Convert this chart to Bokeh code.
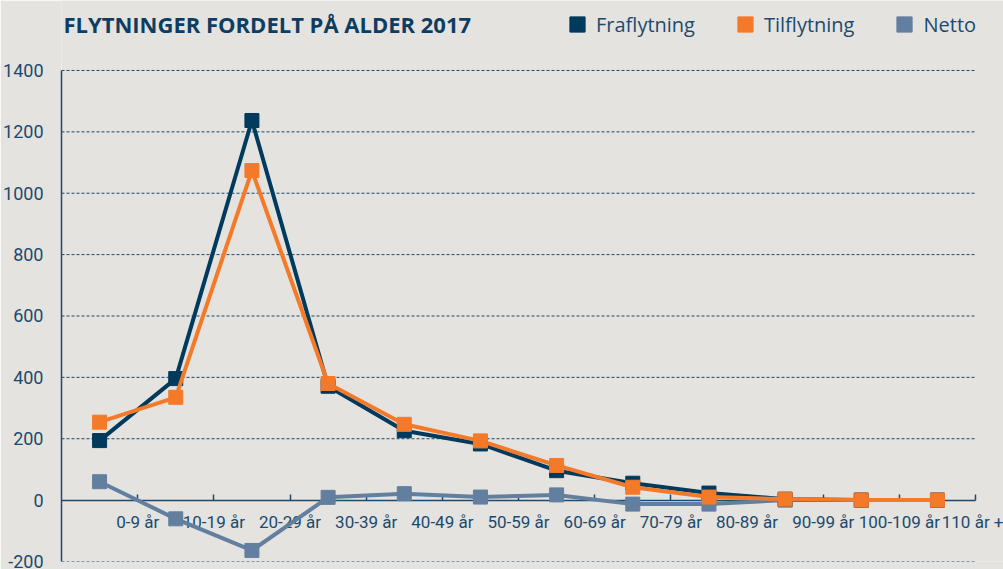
from bokeh.plotting import figure
from bokeh.models import Range1d, FixedTicker, Legend, LegendItem, Label
from bokeh.embed import file_html
from bokeh.resources import INLINE

# ---- data ----
categories = ["0-9 år", "10-19 år", "20-29 år", "30-39 år", "40-49 år", "50-59 år",
              "60-69 år", "70-79 år", "80-89 år", "90-99 år", "100-109 år", "110 år +"]
fraflytning = [194, 396, 1237, 371, 226, 183, 96, 55, 23, 3, 0, 0]
tilflytning = [254, 335, 1074, 380, 247, 193, 113, 42, 10, 3, 0, 0]
netto = [60, -61, -164, 9, 21, 10, 17, -13, -13, 0, 0, 0]
y_ticks = [-200, 0, 200, 400, 600, 800, 1000, 1200, 1400]
title_text = "FLYTNINGER FORDELT PÅ ALDER 2017"

# ---- styles ----
BG = "#e4e3df"
NAVY = "#1c4a6e"
C_FRA = "#003a5c"
C_TIL = "#f47a2a"
C_NET = "#637f9f"
TICK_FONT = "Roboto"
Y_TOP = 1628     # frame extends above the top tick to host title and legend
X_EXTRA = 0.367  # frame extends right of the last category edge to host legend / last label

n = len(categories)
xs = [i + 0.5 for i in range(n)]

p = figure(width=1003, height=569, output_backend="svg", toolbar_location=None,
           x_range=Range1d(0, n + X_EXTRA), y_range=Range1d(y_ticks[0], Y_TOP),
           min_border_left=60, min_border_right=0, min_border_top=0, min_border_bottom=8)
p.background_fill_color = BG
p.border_fill_color = BG
p.outline_line_color = None

# axes
p.xaxis.fixed_location = 0
p.xaxis.bounds = (0, n)
p.xaxis.level = "underlay"
p.xaxis.ticker = FixedTicker(ticks=[i + 1 for i in range(n)])
p.xaxis.major_label_overrides = {i + 1: c for i, c in enumerate(categories)}
p.xaxis.axis_line_color = NAVY
p.xaxis.axis_line_width = 1.5
p.xaxis.major_tick_line_color = NAVY
p.xaxis.major_tick_line_width = 1.5
p.xaxis.major_tick_in = 6
p.xaxis.major_tick_out = 0
p.xaxis.minor_tick_line_color = None
p.xaxis.major_label_text_font = TICK_FONT
p.xaxis.major_label_text_font_size = "17px"
p.xaxis.major_label_text_color = NAVY
p.xaxis.major_label_standoff = 12

p.yaxis.ticker = FixedTicker(ticks=y_ticks)
p.yaxis.major_label_overrides = {v: str(v) for v in y_ticks}
p.yaxis.bounds = (y_ticks[0], y_ticks[-1])
p.yaxis.axis_line_color = NAVY
p.yaxis.axis_line_width = 1.5
p.yaxis.major_tick_line_color = None
p.yaxis.minor_tick_line_color = None
p.yaxis.major_label_text_font = TICK_FONT
p.yaxis.major_label_text_font_size = "18px"
p.yaxis.major_label_text_color = NAVY
p.yaxis.major_label_standoff = 12

p.xgrid.grid_line_color = None
p.ygrid.grid_line_color = None

# dotted horizontal gridlines spanning the category area only
grid_vals = [v for v in y_ticks if v != 0]
p.segment(x0=[0] * len(grid_vals), x1=[n] * len(grid_vals), y0=grid_vals, y1=grid_vals,
          line_color=NAVY, line_dash="3 2", line_width=1, level="underlay")

# series
series = [("Netto", netto, C_NET), ("Fraflytning", fraflytning, C_FRA), ("Tilflytning", tilflytning, C_TIL)]
markers = {}
for name, vals, col in series:
    p.line(xs, vals, line_color=col, line_width=4)
    markers[name] = p.scatter(xs, vals, marker="square", size=14, fill_color=col, line_color=col)

legend = Legend(items=[LegendItem(label=nm, renderers=[markers[nm]]) for nm in ["Fraflytning", "Tilflytning", "Netto"]],
                orientation="horizontal", location=(497, 518),
                background_fill_alpha=0, border_line_color=None,
                padding=0, margin=0, spacing=31, label_standoff=-3,
                glyph_width=38, glyph_height=38,
                label_text_font="Open Sans", label_text_font_size="20px", label_text_color=NAVY)
p.add_layout(legend)

title = Label(x=0.026, y=1551, text=title_text, text_font="Open Sans", text_font_style="bold",
              text_font_size="22px", text_color="#0e3d62", text_baseline="middle", text_align="left")
p.add_layout(title)

open("out.html", "w").write(file_html(p, INLINE))
